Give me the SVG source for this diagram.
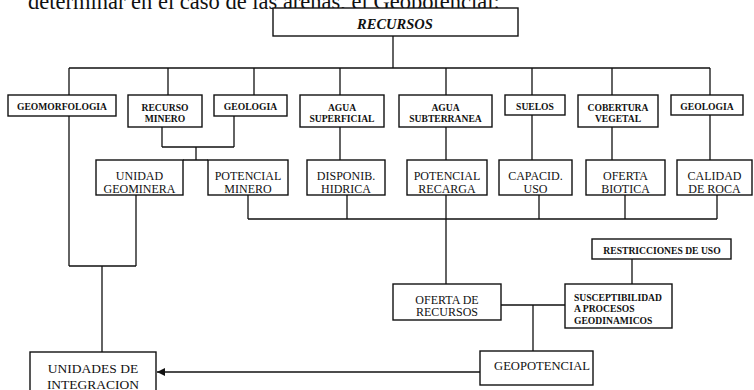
<svg xmlns="http://www.w3.org/2000/svg" width="754" height="390" viewBox="0 0 754 390">
<defs>
<style>
.b{fill:#fff;stroke:#111;stroke-width:1.4}
.c{fill:none;stroke:#111;stroke-width:1.3}
text{font-family:"Liberation Serif","Times New Roman",serif;fill:#111}
.s{font-size:9.6px;font-weight:bold;text-anchor:middle}
.sl{font-size:9.6px;font-weight:bold}
.m{font-size:12px;text-anchor:middle}
.l{font-size:13.5px;text-anchor:middle}
</style>
<marker id="ah" viewBox="0 0 10 10" refX="10" refY="5" markerWidth="8" markerHeight="8" markerUnits="userSpaceOnUse" orient="auto">
<path d="M0,0 L10,5 L0,10 Z" fill="#111"/>
</marker>
</defs>
<rect width="754" height="390" fill="#fff"/>
<text x="28" y="9" style="font-size:22.5px">determinar en el caso de las arenas, el Geopotencial:</text>

<g id="connectors">
<path class="c" d="M393,36 V68 M69,68 H710 M69,68 V95 M168,68 V95 M254,68 V95 M340,68 V95 M446,68 V95 M532,68 V95 M612,68 V95 M710,68 V95"/>
<path class="c" d="M162,127 V147 M234,116 V147 M162,147 H234 M196,147 V160 M183,160 H208"/>
<path class="c" d="M340,127 V160 M446,127 V160 M532,115 V160 M612,127 V160 M710,115 V160"/>
<path class="c" d="M69,116 V266 M136,195 V266 M69,266 H136 M102,266 V352"/>
<path class="c" d="M248,195 V219 M347,195 V219 M446,195 V284 M539,195 V219 M625,195 V219 M717,195 V219 M248,219 H717"/>
<path class="c" d="M632,259 V284 M501,305 H565 M533,305 V351"/>
<path class="c" d="M480,372 H157" marker-end="url(#ah)"/>
</g>

<g id="recursos"><rect class="b" x="273" y="8" width="245" height="28"/><text x="395" y="29" style="font-size:14.5px;font-weight:bold;font-style:italic;text-anchor:middle">RECURSOS</text></g>

<g id="geomorfologia"><rect class="b" x="8" y="95" width="108" height="21"/><text class="s" x="62" y="110">GEOMORFOLOGIA</text></g>
<g id="recurso-minero"><rect class="b" x="128" y="95" width="74" height="32"/><text class="s" x="165" y="110.5">RECURSO</text><text class="s" x="165" y="122">MINERO</text></g>
<g id="geologia1"><rect class="b" x="214" y="95" width="73" height="21"/><text class="s" x="250.5" y="110">GEOLOGIA</text></g>
<g id="agua-superficial"><rect class="b" x="300" y="95" width="84" height="32"/><text class="s" x="342" y="110.5">AGUA</text><text class="s" x="342" y="122">SUPERFICIAL</text></g>
<g id="agua-subterranea"><rect class="b" x="399" y="95" width="93" height="32"/><text class="s" x="445.5" y="110.5">AGUA</text><text class="s" x="445.5" y="122">SUBTERRANEA</text></g>
<g id="suelos"><rect class="b" x="505" y="95" width="60" height="20"/><text class="s" x="535" y="109.5">SUELOS</text></g>
<g id="cobertura-vegetal"><rect class="b" x="578" y="95" width="80" height="32"/><text class="s" x="618" y="110.5">COBERTURA</text><text class="s" x="618" y="122">VEGETAL</text></g>
<g id="geologia2"><rect class="b" x="671" y="95" width="72" height="20"/><text class="s" x="707" y="109.5">GEOLOGIA</text></g>

<g id="unidad-geominera"><rect class="b" x="96" y="160" width="87" height="35"/><text class="m" x="139.5" y="180">UNIDAD</text><text class="m" x="139.5" y="192.5">GEOMINERA</text></g>
<g id="potencial-minero"><rect class="b" x="208" y="160" width="80" height="35"/><text class="m" x="248" y="180">POTENCIAL</text><text class="m" x="248" y="192.5">MINERO</text></g>
<g id="disponib-hidrica"><rect class="b" x="307" y="160" width="78" height="35"/><text class="m" x="346" y="180">DISPONIB.</text><text class="m" x="346" y="192.5">HIDRICA</text></g>
<g id="potencial-recarga"><rect class="b" x="407" y="160" width="80" height="35"/><text class="m" x="447" y="180">POTENCIAL</text><text class="m" x="447" y="192.5">RECARGA</text></g>
<g id="capacid-uso"><rect class="b" x="499" y="160" width="73" height="35"/><text class="m" x="535.5" y="180">CAPACID.</text><text class="m" x="535.5" y="192.5">USO</text></g>
<g id="oferta-biotica"><rect class="b" x="586" y="160" width="79" height="35"/><text class="m" x="625.5" y="180">OFERTA</text><text class="m" x="625.5" y="192.5">BIOTICA</text></g>
<g id="calidad-roca"><rect class="b" x="677" y="160" width="75" height="35"/><text class="m" x="714.5" y="180">CALIDAD</text><text class="m" x="714.5" y="192.5">DE ROCA</text></g>

<g id="restricciones"><rect class="b" x="592" y="239" width="139" height="20"/><text class="s" x="662" y="253.5">RESTRICCIONES DE USO</text></g>
<g id="oferta-recursos"><rect class="b" x="393" y="284" width="108" height="36"/><text class="m" x="447" y="303.5">OFERTA DE</text><text class="m" x="447" y="316">RECURSOS</text></g>
<g id="susceptibilidad"><rect class="b" x="565" y="284" width="107" height="44"/><text class="sl" x="574" y="300.5">SUSCEPTIBILIDAD</text><text class="sl" x="574" y="311.5">A PROCESOS</text><text class="sl" x="574" y="324">GEODINAMICOS</text></g>
<g id="geopotencial"><rect class="b" x="480" y="351" width="113" height="34"/><text x="542" y="370" style="font-size:12.6px;text-anchor:middle">GEOPOTENCIAL</text></g>
<g id="unidades-integracion"><rect class="b" x="30" y="352" width="126" height="50"/><text class="l" x="93" y="373">UNIDADES DE</text><text class="l" x="93" y="389">INTEGRACION</text></g>
</svg>
